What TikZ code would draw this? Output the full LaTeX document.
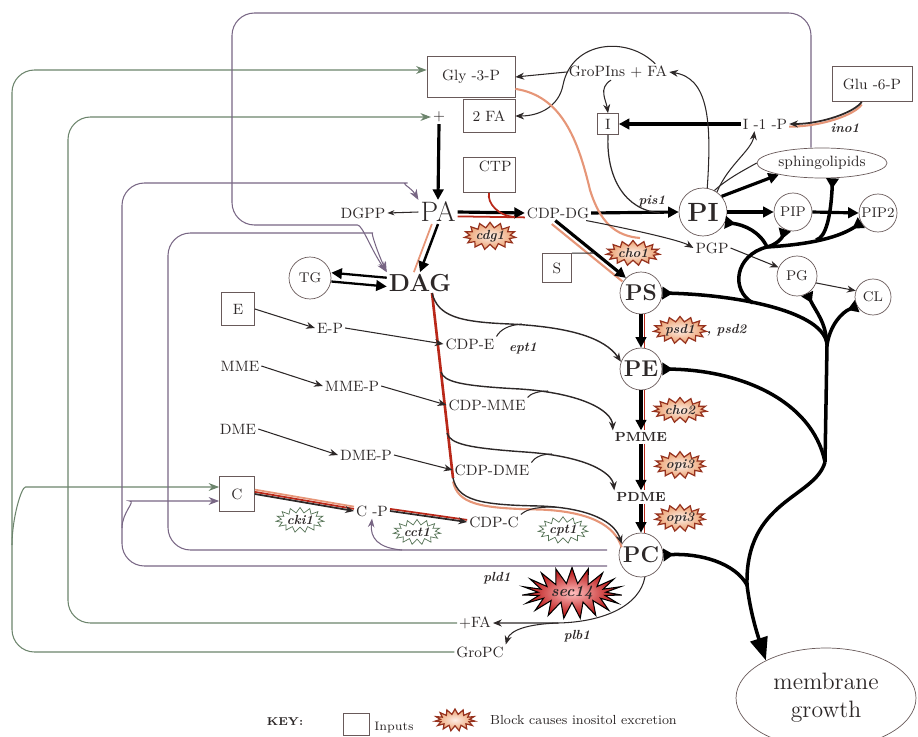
\documentclass[tikz,border=0pt]{standalone}
\usepackage{tikz}
\usetikzlibrary{arrows.meta, positioning, calc, shapes.geometric, shapes.symbols}
\definecolor{ink}{RGB}{45,40,40}
\definecolor{boxln}{RGB}{105,90,90}
\definecolor{regP}{RGB}{120,102,132}
\definecolor{regG}{RGB}{108,132,108}
\definecolor{redln}{RGB}{185,40,25}
\definecolor{salmon}{RGB}{230,150,120}
\definecolor{enzln}{RGB}{150,50,30}
\definecolor{enzin}{RGB}{253,238,230}
\definecolor{enzout}{RGB}{236,160,110}
\definecolor{grnln}{RGB}{85,115,85}

\begin{document}
\begin{tikzpicture}[x=0.02cm, y=-0.02cm, font=\fontsize{8.5}{10}\selectfont, text=ink,
        met/.style={inner sep=1pt},
        inp/.style={rectangle, draw=boxln, minimum size=0.66cm, inner sep=2pt},
        lip/.style={circle, draw=boxln, minimum size=0.84cm, inner sep=0pt, font=\fontsize{13}{15}\selectfont\bfseries},
        lsm/.style={circle, draw=boxln, minimum size=0.76cm, inner sep=0pt, font=\fontsize{8}{10}\selectfont},
        enz/.style={starburst, starburst points=15, starburst point height=3pt, random starburst=0,
                    draw=enzln, line width=0.7pt, inner color=enzin, outer color=enzout,
                    minimum width=0.86cm, minimum height=0.5cm, inner sep=0pt,
                    font=\fontsize{7.5}{9}\selectfont\itshape\bfseries},
        enzg/.style={starburst, starburst points=15, starburst point height=3pt, random starburst=0,
                    draw=grnln, fill=white, minimum width=0.86cm, minimum height=0.5cm, inner sep=0pt,
                    font=\fontsize{7.5}{9}\selectfont\itshape\bfseries},
        gene/.style={inner sep=1pt, font=\fontsize{7.5}{9}\selectfont\itshape\bfseries},
        reg/.style={regP, line width=0.6pt, rounded corners=0.45cm},
        rx/.style={ink, line width=0.6pt, -{Stealth[length=5pt, width=4pt]}},
        thk/.style={black, line width=1.8pt, -{Triangle[length=6pt, width=6pt]}},
        redpar/.style={redln, line width=1pt},
        feed/.style={black, line width=2pt, {Triangle[reversed, length=6pt, width=7pt]}-},
        trunk/.style={black, line width=2pt, -{Triangle[length=13pt, width=10pt]}}]
        \useasboundingbox (0,0) rectangle (918,736);

        \node[inp, minimum width=1.76cm, minimum height=0.82cm] (gly) at (471,77) {Gly -3-P};
        \node[inp, minimum width=1.04cm, minimum height=0.66cm] (twofa) at (489,116) {2 FA};
        \node[inp, minimum width=1.04cm, minimum height=0.7cm, label={[inner sep=2pt, anchor=north east]north east:CTP}] (ctp) at (489,175) {};
        \node[inp, minimum size=0.42cm, inner sep=1pt] (ibox) at (608,124) {I};
        \node[inp, minimum width=1.6cm, minimum height=0.7cm] (glu) at (872,84) {Glu -6-P};
        \node[inp] (ebox) at (238,309) {E};
        \node[inp, minimum size=0.58cm] (sbox) at (557,268) {S};
        \node[inp, minimum size=0.7cm] (cbox) at (237,494) {C};

        \node[met] (plus) at (439,117) {+};
        \node[met, font=\fontsize{16}{18}\selectfont] (pa) at (438,212) {PA};
        \node[met] (dgpp) at (363,213) {DGPP};
        \node[met] (cdpdg) at (558,213) {CDP-DG};
        \node[met, font=\fontsize{14}{16}\selectfont\bfseries] (dag) at (420,283) {DAG};
        \node[lip, font=\fontsize{8}{10}\selectfont] (tg) at (310,278) {TG};
        \node[met] (ep) at (330,328) {E-P};
        \node[met] (cdpe) at (470,344) {CDP-E};
        \node[met] (mme) at (240,366) {MME};
        \node[met] (mmep) at (352,386) {MME-P};
        \node[met] (cdpmme) at (487,405) {CDP-MME};
        \node[met] (dme) at (238,429) {DME};
        \node[met] (dmep) at (366,455) {DME-P};
        \node[met] (cdpdme) at (492,470) {CDP-DME};
        \node[met] (cp) at (372,511) {C -P};
        \node[met] (cdpc) at (494,522) {CDP-C};
        \node[lip] (ps) at (641,293) {PS};
        \node[lip] (pe) at (641,369) {PE};
        \node[met, font=\fontsize{7.5}{9}\selectfont\bfseries] (pmme) at (641,437) {PMME};
        \node[met, font=\fontsize{7.5}{9}\selectfont\bfseries] (pdme) at (641,497) {PDME};
        \node[lip, minimum size=0.88cm] (pc) at (641,555) {PC};
        \node[lip, minimum size=0.96cm, font=\fontsize{15}{17}\selectfont\bfseries] (pi) at (703,212) {PI};
        \node[lsm] (pip) at (793,212) {PIP};
        \node[lsm] (pip2) at (878,213) {PIP2};
        \node[lsm, minimum size=0.8cm] (pg) at (797,276) {PG};
        \node[lsm, minimum size=0.72cm] (cl) at (873,297) {CL};
        \node[met] (pgp) at (712,248) {PGP};
        \node[met] (i1p) at (765,124) {I -1 -P};
        \node[met] (gropi) at (618,72) {GroPIns + FA};
        \node[ellipse, draw=boxln, minimum width=2.6cm, minimum height=0.6cm, inner sep=0pt] (sphingo) at (822,163) {sphingolipids};
        \node[met] (fa) at (475,623) {+FA};
        \node[met] (gropc) at (480,652) {GroPC};
        \node[ellipse, draw=boxln, minimum width=3.6cm, minimum height=2cm, inner sep=0pt, align=center,
              font=\fontsize{13.5}{16}\selectfont] (growth) at (826,698) {membrane\\growth};

        \node[enz] (cdg) at (490,236) {cdg1};
        \node[enz] (cho) at (633,253) {cho1};
        \node[enz] (psd) at (680,330) {psd1};
        \node[gene, anchor=west] (psdb) at (psd.east) {, psd2};
        \node[enz] (chob) at (680,410) {cho2};
        \node[enz] (opia) at (680,465) {opi3};
        \node[enz] (opib) at (680,518) {opi3};
        \node[enzg] (cki) at (300,520) {cki1};
        \node[enzg] (cct) at (417,532) {cct1};
        \node[enzg] (cpt) at (563,530) {cpt1};
        \node[starburst, starburst points=19, starburst point height=0.32cm, random starburst=0, draw=black, line width=0.6pt,
              inner color=red!25!white, outer color=red!70!black, minimum width=2cm, minimum height=0.9cm, inner sep=0pt,
              font=\fontsize{9}{11}\selectfont\itshape\bfseries] (sec) at (572,593) {sec14};
        \node[gene] (pis) at (652,201) {pis1};
        \node[gene] (ept) at (523,348) {ept1};
        \node[gene] (pld) at (497,578) {pld1};
        \node[gene] (plb) at (577,636) {plb1};
        \node[gene] (ino) at (845,128) {ino1};

        \node[met, font=\fontsize{6.5}{8}\selectfont\bfseries] (key) at (285,722) {KEY:};
        \node[inp, minimum width=0.52cm, minimum height=0.44cm] (keybox) at (356,724) {};
        \node[met, font=\fontsize{7}{8}\selectfont] (keyin) at (394,727) {Inputs};
        \node[enz, minimum width=0.8cm, minimum height=0.44cm] (keyenz) at (455,720) {};
        \node[met, anchor=west, font=\fontsize{7.5}{9}\selectfont] (keytxt) at (488,720) {Block causes inositol excretion};

        \coordinate (brA) at (12,545);
        \coordinate (brB) at (122,528);
        \coordinate (pldA) at (607,566);
        \coordinate (pcA) at (607,550);
        \coordinate (brC) at (402,550);
        \draw[reg, regG, -{Stealth[length=6pt]}] (gropc.west) -- (12,652) -- (12,70) -- (gly.west |- 0,70);
        \draw[reg, regG, -{Stealth[length=6pt]}] (brA) to[out=90, in=180] (48,487) -- (cbox.west |- 0,487);
        \draw[reg, regG, -{Stealth[length=6pt]}] (fa.west) -- (68,623) -- (68,117) -- (plus.west);
        \draw[reg, -{Stealth[length=6pt]}] (pldA) -- (122,566) -- (122,183) -- (385,183) to[out=0, in=120] (pa.north west);
        \draw[reg, -{Stealth[length=6pt]}] (brB) to[out=90, in=180] (152,501) -- (cbox.west |- 0,501);
        \draw[reg, -{Stealth[length=6pt]}] (pcA) -- (168,550) -- (168,233) -- (350,233) to[out=0, in=115] (dag.north west);
        \draw[reg, -{Stealth[length=5pt]}] (brC) .. controls (378,548) and (370,538) .. (cp.south);
        \draw[reg, -{Stealth[length=6pt]}] (sphingo.north -| 811,0) -- (811,13) -- (232,13) -- (232,225) -- (335,225) to[out=0, in=125] (dag.north west);

        \draw[thk] (plus.south) -- (pa.north);
        \draw[redpar] ([yshift=-2.5pt]pa.east) -- ([yshift=-2.5pt]cdpdg.west);
        \draw[thk] (pa.east) -- (cdpdg.west);
        \coordinate (ctpj) at (515,217);
        \draw[redpar] (ctp.south) .. controls (487,203) and (498,216) .. (ctpj);
        \draw[rx, -{Stealth[length=4pt]}] (pa.west) -- (dgpp.east);
        \draw[salmon, line width=1pt] ([xshift=-3.5pt]pa.south) -- ([xshift=-3.5pt]dag.north);
        \draw[thk, line width=1.4pt] (pa.south) -- (dag.north);
        \draw[thk, line width=1.3pt] ([yshift=3pt]dag.west) -- ([yshift=3pt]tg.east);
        \draw[thk, line width=1.3pt] ([yshift=-2pt]tg.east) -- ([yshift=-2pt]dag.west);

        \draw[salmon, line width=1.2pt, transform canvas={xshift=-2pt, yshift=-2pt}] (cdpdg.-110) -- (ps.135);
        \draw[thk] (cdpdg.-110) -- (ps.135);
        \coordinate (sj) at (594,253);
        \draw[ink, line width=0.6pt] (sbox.north east) -- (sj);
        \draw[thk] (cdpdg.east) -- (pi.west);
        \coordinate (pij) at (660,213);
        \draw[ink, line width=0.7pt] (ibox.south) .. controls (606,178) and (625,210) .. (pij);
        \draw[thk] (i1p.west) -- (ibox.east);
        \draw[salmon, line width=1.2pt, transform canvas={yshift=-1.5pt}] (glu.-120) .. controls (855,112) and (822,124) .. (i1p.east);
        \draw[rx, line width=1pt] (glu.-120) .. controls (855,112) and (822,124) .. (i1p.east);
        \draw[rx] (pi.55) .. controls (728,165) and (752,150) .. ([xshift=-6pt]i1p.south);
        \draw[rx] (pi.80) .. controls (712,120) and (708,78) .. (gropi.east);
        \draw[rx] ([xshift=-4pt]gropi.south) .. controls (598,88) and (606,100) .. (ibox.north);
        \draw[rx] (gropi.west) -- (gly.east);
        \draw[rx] ([xshift=-8pt]gropi.north east) .. controls (628,36) and (572,40) .. (563,85) .. controls (559,106) and (540,116) .. (twofa.east);
        \coordinate (salj) at (640,238);
        \draw[salmon, line width=1.2pt] (gly.-15) .. controls (562,96) and (578,140) .. (590,190) .. controls (600,222) and (615,236) .. (salj);
        \draw[rx] (cdpdg.-15) .. controls (625,228) and (680,240) .. (pgp.west);
        \draw[rx] (pgp.east) -- (pg.155);
        \draw[rx] (pg.-20) -- (cl.160);
        \draw[thk] (pi.east) -- (pip.west);
        \draw[thk] (pip.east) -- (pip2.west);
        \draw[thk] (pi.40) -- (sphingo.-165);
        \draw[ink, line width=0.6pt] (pi.62) .. controls (728,178) and (748,168) .. (sphingo.west);

        \coordinate (ja) at (747,585);
        \coordinate (jb) at (825,462);
        \coordinate (jc) at (827,345);
        \coordinate (jd) at (753,303);
        \coordinate (je) at (767,247);
        \coordinate (jf) at (816,240);
        \draw[trunk] (jb) .. controls (815,498) and (745,500) .. (ja) .. controls (750,610) and (756,630) .. (growth.148);
        \draw[feed] (pc.east) .. controls (700,553) and (735,563) .. (ja);
        \draw[feed] (pe.east) .. controls (740,370) and (812,400) .. (jb);
        \draw[feed] (ps.east) .. controls (740,295) and (825,312) .. (jc) -- (jb);
        \draw[feed] (pg.-60) .. controls (816,312) and (826,322) .. (jc);
        \draw[feed] (cl.-150) .. controls (842,312) and (830,325) .. (jc);
        \draw[black, line width=2pt] (je) .. controls (735,255) and (730,290) .. (jd);
        \draw[feed] (pip2.-150) .. controls (835,240) and (800,245) .. (je);
        \draw[feed] (pip.-115) .. controls (782,238) and (776,245) .. (je);
        \draw[feed] (pi.-25) .. controls (745,225) and (760,232) .. (je);
        \draw[feed] ([xshift=6pt]sphingo.south) .. controls (831,215) and (826,238) .. (jf);

        \draw[redpar, transform canvas={xshift=2pt}] (ps) -- (pe);
        \draw[thk] (ps) -- (pe);
        \draw[redpar, transform canvas={xshift=2pt}] (pe) -- (pmme);
        \draw[thk] (pe) -- (pmme);
        \draw[redpar, transform canvas={xshift=2pt}] (pmme) -- (pdme);
        \draw[thk] (pmme) -- (pdme);
        \draw[redpar, transform canvas={xshift=2pt}] (pdme) -- (pc);
        \draw[thk] (pdme) -- (pc);

        \coordinate (dgA) at (432,293);
        \coordinate (dgB) at (441,372);
        \coordinate (dgC) at (447,433);
        \coordinate (dgD) at (453,478);
        \draw[redln, line width=1.5pt] (dgA) -- (dgD);
        \draw[rx, line width=0.8pt] (dgA) .. controls (438,316) and (458,322) .. (510,324) .. controls (570,327) and (605,338) .. (pe.160);
        \draw[rx, line width=0.8pt] (dgB) .. controls (444,382) and (462,386) .. (520,389) .. controls (580,393) and (612,410) .. (pmme.north west);
        \draw[rx, line width=0.8pt] (dgC) .. controls (450,444) and (468,448) .. (525,452) .. controls (585,456) and (612,472) .. (pdme.north west);
        \draw[salmon, line width=1.2pt, transform canvas={yshift=-2pt}] (dgD) .. controls (458,500) and (478,505) .. (540,506) .. controls (590,508) and (615,522) .. (pc.150);
        \draw[rx, line width=0.8pt] (dgD) .. controls (458,500) and (478,505) .. (540,506) .. controls (590,508) and (615,522) .. (pc.150);
        \coordinate (jE) at (522,324);
        \coordinate (jM) at (548,391);
        \coordinate (jD) at (552,454);
        \coordinate (jC) at (555,507);
        \draw[ink, line width=0.6pt] (cdpe.north east) .. controls (500,330) and (508,325) .. (jE);
        \draw[ink, line width=0.6pt] (cdpmme.north east) .. controls (530,394) and (538,391) .. (jM);
        \draw[ink, line width=0.6pt] (cdpdme.north east) .. controls (535,457) and (542,454) .. (jD);
        \draw[ink, line width=0.6pt] (cdpc.north east) .. controls (528,508) and (540,507) .. (jC);

        \draw[rx] (ebox.east) -- (ep.west);
        \draw[rx] (ep.east) -- (cdpe.west);
        \draw[rx] (mme.east) -- (mmep.west);
        \draw[rx] (mmep.east) -- (cdpmme.west);
        \draw[rx] (dme.east) -- (dmep.west);
        \draw[rx] (dmep.east) -- (cdpdme.west);
        \draw[salmon, line width=1pt, transform canvas={yshift=2.5pt}] (cbox.east) -- (cp.west);
        \draw[redpar, transform canvas={yshift=1.2pt}] (cbox.east) -- (cp.west);
        \draw[rx, line width=1pt] (cbox.east) -- (cp.west);
        \draw[redpar, transform canvas={yshift=1.2pt}] (cp.east) -- (cdpc.west);
        \draw[rx, line width=1pt] (cp.east) -- (cdpc.west);

        \coordinate (plbj) at (558,623);
        \draw[rx] (pc.-80) .. controls (640,605) and (605,622) .. (plbj) -- (fa.east);
        \draw[rx] (plbj) .. controls (528,624) and (510,630) .. (gropc.north east);
    \end{tikzpicture}
\end{document}
